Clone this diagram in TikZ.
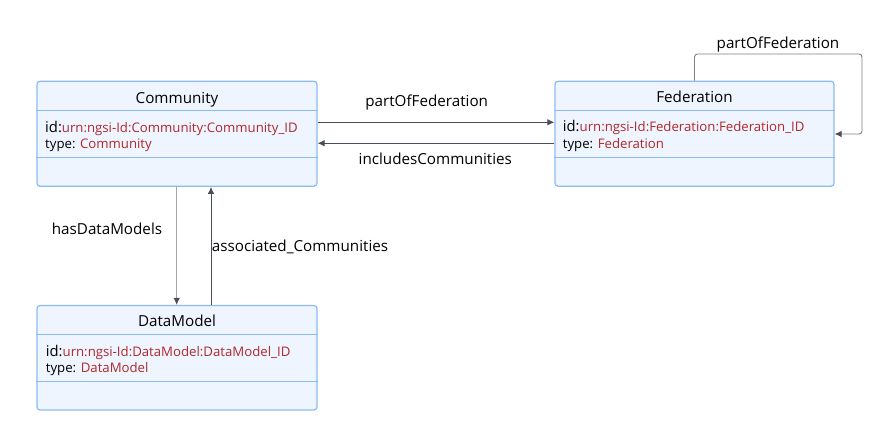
\documentclass[tikz,border=0pt]{standalone}
\usepackage{fontspec}
\setmainfont{Open Sans}
\usepackage{tikz}
\usetikzlibrary{arrows.meta}
\definecolor{boxfill}{HTML}{EEF5FE}
\definecolor{boxline}{HTML}{8CBBF2}
\definecolor{idred}{HTML}{B0282C}
\definecolor{linkgray}{HTML}{474D5A}
\begin{document}
\begin{tikzpicture}[>={Latex[length=7bp,width=6.5bp]},line join=bevel,
  classbox/.style={draw=boxline,fill=boxfill,line width=1.2bp,rounded corners=3bp,minimum width=280bp,minimum height=105bp,inner sep=0},
  sep/.style={draw=boxline,line width=1.2bp},
  title/.style={font=\fontsize{15.2bp}{17bp}\selectfont,inner sep=0,anchor=base},
  attr/.style={font=\fontsize{13.2bp}{15bp}\selectfont,inner sep=0,anchor=base west},
  link/.style={draw=linkgray,line width=0.9bp},
  lbl/.style={font=\fontsize{15.2bp}{17bp}\selectfont,inner sep=0}]
\useasboundingbox (0,0) rectangle (885bp,441bp);
%%
\node (node_community) at (177bp,307.25bp) [classbox] {};
  \node (node_federation) at (694.5bp,307.25bp) [classbox,minimum width=279bp] {};
  \node (node_datamodel) at (177bp,83.25bp) [classbox,minimum height=104.5bp] {};
  \coordinate (loop_corner) at (862bp,387bp);
%
  \draw [sep] ([yshift=-30bp]node_community.north west) -- ([yshift=-30bp]node_community.north east);
  \draw [sep] ([yshift=29bp]node_community.south west) -- ([yshift=29bp]node_community.south east);
  \draw [sep] ([yshift=-30bp]node_federation.north west) -- ([yshift=-30bp]node_federation.north east);
  \draw [sep] ([yshift=29bp]node_federation.south west) -- ([yshift=29bp]node_federation.south east);
  \draw [sep] ([yshift=-30bp]node_datamodel.north west) -- ([yshift=-30bp]node_datamodel.north east);
  \draw [sep] ([yshift=29bp]node_datamodel.south west) -- ([yshift=29bp]node_datamodel.south east);
%
  \node (title_community) at (177bp,337.7bp) [title] {Community};
  \node (id_community) at (45bp,308.7bp) [attr] {{\fontsize{14.8bp}{16bp}\selectfont id:}\textcolor{idred}{urn:ngsi-Id:Community:Community\_ID}};
  \node (type_community) at (45bp,292.7bp) [attr] {type: \textcolor{idred}{Community}};
  \node (title_federation) at (694.5bp,338.3bp) [title] {Federation};
  \node (id_federation) at (562.7bp,309.3bp) [attr] {{\fontsize{14.8bp}{16bp}\selectfont id:}\textcolor{idred}{urn:ngsi-Id:Federation:Federation\_ID}};
  \node (type_federation) at (562.7bp,292.7bp) [attr] {type: \textcolor{idred}{Federation}};
  \node (title_datamodel) at (177bp,114.3bp) [title] {DataModel};
  \node (id_datamodel) at (45.7bp,84.3bp) [attr] {{\fontsize{14.8bp}{16bp}\selectfont id:}\textcolor{idred}{urn:ngsi-Id:DataModel:DataModel\_ID}};
  \node (type_datamodel) at (45.7bp,68.3bp) [attr] {type: \textcolor{idred}{DataModel}};
%
  \node (lbl_part) at (426.7bp,338bp) [lbl] {partOfFederation};
  \node (lbl_includes) at (435.3bp,282bp) [lbl] {includesCommunities};
  \node (lbl_has) at (107bp,212bp) [lbl] {hasDataModels};
  \node (lbl_assoc) at (211.7bp,194.3bp) [lbl,anchor=west] {associated\_Communities};
  \node (lbl_loop) at (778bp,396bp) [lbl] {partOfFederation};
%
  \draw [link,->] ([yshift=11.45bp]node_community.east) -- ([yshift=11.45bp]node_federation.west);
  \draw [link,->] ([yshift=-9.5bp]node_federation.west) -- ([yshift=-9.5bp]node_community.east);
  \draw [link,draw=gray!70,-{Latex[length=7bp,width=6.5bp,color=linkgray]}] ([xshift=-0.3bp]node_community.south) -- ([xshift=-0.3bp]node_datamodel.north);
  \draw [link,->] ([xshift=34bp]node_datamodel.north) -- ([xshift=34bp]node_community.south);
  \draw [link,draw=gray,rounded corners=3bp,-{Latex[length=7bp,width=6.5bp,color=linkgray]}] (node_federation.north) |- (loop_corner) |- ([yshift=-0.25bp]node_federation.east);
%
\end{tikzpicture}
\end{document}
